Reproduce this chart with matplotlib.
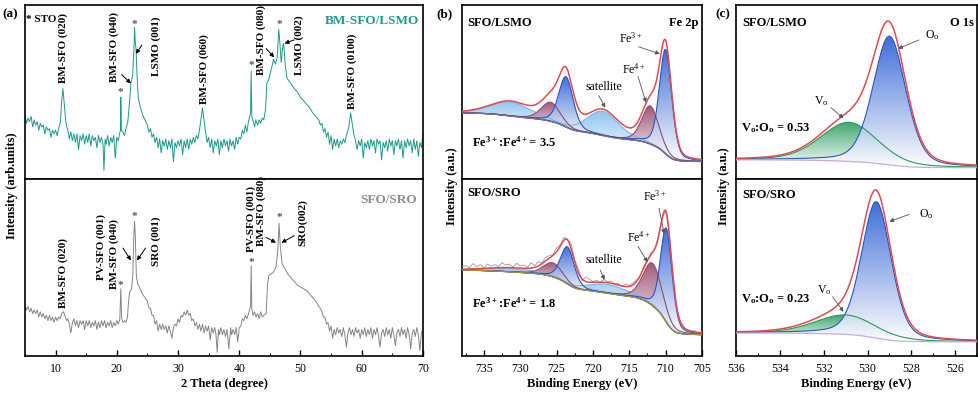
import numpy as np
import matplotlib
matplotlib.use('Agg')
import matplotlib.pyplot as plt
import matplotlib.colors as mcolors
from matplotlib.ticker import MultipleLocator

plt.rcParams['font.family'] = ['Liberation Serif', 'DejaVu Serif']
plt.rcParams['mathtext.default'] = 'regular'

# ---------------- (a) XRD data: (2theta, intensity arb. units) ----------------
xrd_lsmo = [(5.0, 37), (5.25, 32), (5.5, 35), (5.75, 33), (6.0, 36), (6.25, 30), (6.5, 34), (6.75, 31),
            (7.0, 33), (7.25, 28), (7.5, 32), (7.75, 30), (8.0, 31), (8.25, 26), (8.5, 30), (8.75, 28),
            (9.0, 29), (9.25, 24), (9.5, 28), (9.75, 26), (10.0, 28), (10.25, 25), (10.5, 29), (10.8, 33),
            (11.0, 45), (11.2, 52), (11.4, 44), (11.7, 32), (12.0, 28), (12.25, 23), (12.5, 27), (12.75, 22),
            (13.0, 26), (13.25, 21), (13.5, 26), (13.75, 17), (14.0, 25), (14.25, 22), (14.5, 26), (14.75, 20),
            (15.0, 25), (15.25, 21), (15.5, 26), (15.75, 19), (16.0, 25), (16.25, 22), (16.5, 24), (16.75, 18),
            (17.0, 25), (17.25, 21), (17.5, 24), (17.75, 20), (17.9, 5), (18.1, 23), (18.25, 20), (18.5, 25),
            (18.75, 19), (19.0, 24), (19.25, 21), (19.5, 25), (19.75, 12), (20.0, 24), (20.25, 22), (20.5, 27),
            (20.6, 28), (20.65, 47), (20.75, 28), (21.0, 27), (21.25, 25), (21.5, 29), (21.8, 33), (22.1, 45),
            (22.3, 55), (22.6, 60), (22.8, 75), (22.9, 87), (23.0, 80), (23.15, 74), (23.3, 60), (23.5, 47),
            (23.8, 42), (24.2, 37), (24.6, 34), (25.0, 31), (25.25, 27), (25.5, 29), (25.75, 24), (26.0, 26),
            (26.25, 21), (26.5, 24), (26.75, 18), (27.0, 23), (27.25, 15), (27.5, 22), (27.75, 19), (28.0, 23),
            (28.25, 17), (28.5, 22), (28.75, 18), (29.0, 23), (29.25, 10), (29.5, 21), (29.75, 18), (30.0, 22),
            (30.25, 19), (30.5, 23), (30.75, 14), (31.0, 22), (31.25, 18), (31.5, 23), (31.75, 17), (32.0, 23),
            (32.25, 20), (32.5, 24), (32.75, 21), (33.0, 25), (33.25, 23), (33.5, 28), (33.8, 36), (34.0, 41),
            (34.2, 35), (34.5, 27), (34.75, 21), (35.0, 24), (35.25, 18), (35.5, 23), (35.75, 15), (36.0, 22),
            (36.25, 19), (36.5, 23), (36.75, 14), (37.0, 22), (37.25, 18), (37.5, 23), (37.75, 19), (38.0, 22),
            (38.25, 16), (38.5, 23), (38.75, 19), (39.0, 22), (39.25, 17), (39.5, 24), (39.75, 20), (40.0, 24),
            (40.25, 23), (40.5, 28), (40.75, 26), (41.0, 31), (41.25, 27), (41.5, 33), (41.85, 38), (41.95, 62),
            (42.05, 36), (42.3, 33), (42.5, 30), (42.7, 34), (43.0, 31), (43.25, 34), (43.5, 32), (43.75, 35),
            (44.0, 34), (44.3, 40), (44.5, 55), (44.8, 57), (45.0, 60), (45.3, 64), (45.6, 69), (45.9, 66),
            (46.2, 70), (46.45, 86), (46.6, 80), (46.85, 67), (47.1, 76), (47.25, 78), (47.5, 66), (47.8, 58),
            (48.2, 56), (48.6, 54), (49.0, 52), (49.5, 50), (50.0, 47), (50.5, 45), (51.0, 43), (51.5, 41),
            (52.0, 38), (52.5, 36), (53.0, 34), (53.25, 31), (53.5, 32), (53.75, 27), (54.0, 29), (54.25, 24),
            (54.5, 27), (54.75, 20), (55.0, 25), (55.25, 17), (55.5, 23), (55.75, 19), (56.0, 23), (56.25, 18),
            (56.5, 22), (56.75, 20), (57.0, 23), (57.25, 21), (57.5, 25), (57.9, 30), (58.2, 38), (58.4, 33),
            (58.7, 26), (59.0, 22), (59.25, 17), (59.5, 22), (59.75, 19), (60.0, 23), (60.25, 12), (60.5, 21),
            (60.75, 18), (61.0, 22), (61.25, 17), (61.5, 23), (61.75, 19), (62.0, 22), (62.25, 15), (62.5, 23),
            (62.75, 20), (63.0, 22), (63.25, 11), (63.5, 21), (63.75, 18), (64.0, 22), (64.25, 16), (64.5, 23),
            (64.75, 19), (65.0, 22), (65.25, 14), (65.5, 22), (65.75, 19), (66.0, 23), (66.25, 17), (66.5, 22),
            (66.75, 12), (67.0, 22), (67.25, 18), (67.5, 23), (67.75, 19), (68.0, 22), (68.25, 15), (68.5, 23),
            (68.75, 17), (69.0, 22), (69.25, 13), (69.5, 21), (69.75, 18), (70.0, 26)]

xrd_sro = [(5.0, 29), (5.25, 26), (5.5, 28), (5.75, 25), (6.0, 27), (6.25, 24), (6.5, 26), (6.75, 24),
           (7.0, 26), (7.25, 22), (7.5, 25), (7.75, 22), (8.0, 24), (8.25, 21), (8.5, 23), (8.75, 20),
           (9.0, 23), (9.25, 20), (9.5, 22), (9.75, 19), (10.0, 22), (10.25, 20), (10.5, 22), (10.75, 21),
           (11.0, 24), (11.3, 25), (11.6, 22), (11.8, 20), (12.0, 21), (12.25, 18), (12.5, 13), (12.75, 19),
           (13.0, 21), (13.25, 17), (13.5, 20), (13.75, 16), (14.0, 20), (14.25, 18), (14.5, 20), (14.75, 15),
           (15.0, 20), (15.25, 17), (15.5, 20), (15.75, 16), (16.0, 19), (16.25, 17), (16.5, 20), (16.75, 15),
           (17.0, 19), (17.25, 16), (17.5, 20), (17.75, 17), (18.0, 20), (18.25, 16), (18.5, 19), (18.75, 17),
           (19.0, 20), (19.25, 16), (19.5, 19), (19.75, 17), (20.0, 20), (20.25, 18), (20.5, 21), (20.65, 38),
           (20.8, 21), (21.0, 19), (21.25, 20), (21.5, 19), (21.75, 22), (21.9, 30), (22.1, 36), (22.4, 38),
           (22.6, 45), (22.8, 70), (22.9, 76), (23.0, 70), (23.2, 45), (23.4, 41), (23.8, 38), (24.2, 35),
           (24.6, 33), (25.0, 31), (25.25, 27), (25.5, 27), (25.75, 23), (26.0, 23), (26.25, 18), (26.5, 20),
           (26.75, 14), (27.0, 18), (27.25, 15), (27.5, 18), (27.75, 15), (28.0, 17), (28.25, 13), (28.5, 17),
           (28.75, 14), (29.0, 10), (29.25, 16), (29.5, 18), (29.75, 17), (30.0, 21), (30.25, 19), (30.5, 23),
           (30.75, 22), (31.0, 25), (31.25, 23), (31.5, 26), (31.75, 23), (32.0, 24), (32.25, 20), (32.5, 21),
           (32.75, 17), (33.0, 19), (33.25, 15), (33.5, 18), (33.75, 14), (34.0, 18), (34.25, 13), (34.5, 17),
           (34.75, 14), (35.0, 17), (35.25, 9), (35.5, 16), (35.75, 13), (36.0, 16), (36.2, 12), (36.4, 2),
           (36.6, 15), (36.75, 12), (37.0, 16), (37.25, 12), (37.5, 15), (37.75, 11), (38.0, 15), (38.3, 4),
           (38.6, 16), (38.75, 12), (39.0, 15), (39.25, 12), (39.5, 16), (39.75, 8), (40.0, 16), (40.25, 17),
           (40.5, 21), (40.75, 20), (41.0, 23), (41.25, 21), (41.5, 24), (41.85, 28), (41.95, 51), (42.05, 27),
           (42.25, 23), (42.5, 25), (42.75, 22), (43.0, 24), (43.25, 21), (43.5, 25), (43.75, 22), (44.0, 23),
           (44.4, 24), (44.6, 40), (44.8, 45), (45.0, 46), (45.5, 47), (46.0, 50), (46.3, 60), (46.5, 75),
           (46.7, 62), (47.0, 52), (47.5, 49), (48.0, 46), (48.5, 44), (49.0, 42), (49.5, 40), (50.0, 39),
           (50.5, 38), (51.0, 37), (51.5, 35), (52.0, 33), (52.5, 31), (53.0, 28), (53.25, 27), (53.5, 25),
           (53.75, 22), (54.0, 22), (54.25, 18), (54.5, 19), (54.75, 14), (55.0, 17), (55.25, 10), (55.5, 15),
           (55.75, 12), (56.0, 16), (56.25, 13), (56.5, 15), (56.75, 11), (57.0, 16), (57.25, 12), (57.5, 5),
           (57.75, 13), (58.0, 16), (58.25, 12), (58.5, 15), (58.75, 11), (59.0, 16), (59.25, 13), (59.5, 15),
           (59.75, 10), (60.0, 15), (60.25, 12), (60.5, 16), (60.75, 11), (61.0, 15), (61.25, 12), (61.5, 16),
           (61.75, 10), (62.0, 15), (62.25, 12), (62.5, 16), (62.75, 11), (63.0, 5), (63.25, 13), (63.5, 15),
           (63.75, 11), (64.0, 16), (64.25, 12), (64.5, 15), (64.75, 10), (65.0, 16), (65.25, 12), (65.5, 6),
           (65.75, 13), (66.0, 15), (66.25, 11), (66.5, 16), (66.75, 12), (67.0, 15), (67.25, 10), (67.5, 16),
           (67.75, 12), (68.0, 4), (68.25, 13), (68.5, 15), (68.75, 11), (69.0, 16), (69.25, 12), (69.5, 3),
           (69.75, 13), (70.0, 15)]

# peak labels: (text, 2theta, y of label bottom)
lab_lsmo = [("BM-SFO (020)", 11.3, 55), ("BM-SFO (040)", 19.5, 56), ("LSMO (001)", 26.4, 59),
            ("BM-SFO (060)", 34.3, 43), ("BM-SFO (080)", 43.6, 60), ("LSMO (002)", 49.8, 60),
            ("BM-SFO (0100)", 58.5, 40)]
lab_sro = [("BM-SFO (020)", 11.3, 27), ("PV-SFO (001)", 17.4, 43), ("BM-SFO (040)", 19.5, 38),
           ("SRO (001)", 26.4, 51), ("PV-SFO (001)", 42.0, 59), ("BM-SFO (080)", 43.6, 62),
           ("SRO(002)", 50.3, 62)]
sto_lsmo = [(20.65, 50), (22.9, 89), (42.0, 65), (46.5, 89)]
sto_sro = [(20.65, 40), (22.9, 79), (42.0, 53), (46.5, 78)]
arr_lsmo = [((20.8, 60), (22.3, 55)), ((24.1, 77), (23.1, 72)), ((44.4, 75), (45.7, 70)),
            ((49.0, 80), (47.4, 78))]
arr_sro = [((21.0, 61), (22.3, 54)), ((24.7, 61), (23.3, 54)), ((44.4, 67), (46.0, 64)),
           ((49.0, 68), (46.9, 64))]

# ---------------- (b) Fe 2p fit components ----------------
fe_kind = ['Fe3+', 'Fe4+', 'Fe3+', 'Fe4+', 'sat', 'sat']
fe_lsmo_center = [710.0, 712.1, 723.7, 725.8, 718.6, 731.3]
fe_lsmo_height = [0.60, 0.22, 0.29, 0.11, 0.14, 0.08]
fe_lsmo_sigma = [0.85, 1.15, 1.0, 1.3, 2.2, 2.8]
fe_lsmo_bg = (0.10, 0.38)
fe_sro_center = [709.9, 711.8, 723.5, 725.5, 718.0, 731.0]
fe_sro_height = [0.53, 0.24, 0.21, 0.08, 0.05, 0.02]
fe_sro_sigma = [0.8, 1.3, 0.95, 1.3, 2.8, 3.5]
fe_sro_bg = (0.12, 0.485)
# raw-minus-fit residual for SFO/SRO, 0.5 eV steps from 705 to 738 eV
fe_sro_resid = [0.010, -0.004, 0.006, 0.000, -0.003, 0.004, 0.002, -0.006, 0.005, 0.008,
                -0.004, 0.006, 0.012, -0.005, 0.010, 0.003, 0.014, -0.006, 0.009, 0.012,
                0.004, 0.015, -0.004, 0.010, 0.002, 0.012, 0.006, 0.016, -0.005, 0.011,
                0.004, 0.018, 0.025, -0.010, 0.020, 0.012, 0.028, 0.004, 0.018, 0.008,
                0.022, 0.003, 0.016, 0.020, 0.005, 0.024, 0.010, 0.030, 0.006, 0.018,
                0.012, 0.026, 0.004, 0.020, 0.015, 0.028, 0.006, 0.018, 0.010, 0.024,
                0.004, 0.022, 0.012, 0.030, 0.008, 0.020, 0.014]

# ---------------- (c) O 1s fit components ----------------
o_kind = ['Oo', 'Vo']
o_lsmo_center = [529.0, 530.85]
o_lsmo_height = [0.74, 0.225]
o_lsmo_sigma = [0.75, 1.3]
o_lsmo_bg = (0.065, 0.11)
o_sro_center = [529.6, 531.0]
o_sro_height = [0.77, 0.11]
o_sro_sigma = [0.68, 1.4]
o_sro_bg = (0.08, 0.13)

# colours
TEAL = '#1b9a8b'
GREY = '#858585'
RED = '#e5484f'
STYLE = {'Fe3+': ('#2f62d4', '#2a55c0'), 'Fe4+': ('#9a4a6c', '#8a5070'),
         'sat': ('#86bff0', '#7db6e6'), 'Oo': ('#2f62d4', '#2a55c0'), 'Vo': ('#2ea062', '#2a9a5c')}

fig = plt.figure(figsize=(9.79, 3.96), dpi=100)
TOP, MID, BOT = 0.987, 0.548, 0.101


def pair(left, right):
    w = right - left
    a1 = fig.add_axes([left, MID, w, TOP - MID])
    a2 = fig.add_axes([left, BOT, w, MID - BOT])
    for a in (a1, a2):
        for s in a.spines.values():
            s.set_linewidth(1.2)
        a.set_yticks([])
    a1.tick_params(bottom=False, labelbottom=False)
    return a1, a2


def comp(E, c, h, s, eta=0.3):
    g = np.exp(-0.5 * ((E - c) / s) ** 2)
    L = 1.0 / (1.0 + ((E - c) / (1.1774 * s)) ** 2)
    return h * ((1 - eta) * g + eta * L)


def shirley(E, total, lo, hi):
    cum = np.concatenate([[0], np.cumsum((total[1:] + total[:-1]) / 2 * np.diff(E))])
    return lo + (hi - lo) * cum / cum[-1]


def grad_fill(ax, E, lo, hi, color, z):
    poly = ax.fill_between(E, lo, hi, facecolor='none', edgecolor='none')
    path = poly.get_paths()[0]
    mask = (hi - lo) > 0.002
    bot = lo[mask].min()
    top = hi.max()
    c = np.array(mcolors.to_rgba(color))
    t = np.linspace(0, 1, 256)[:, None]
    rgba = (1 - t) * np.array([1, 1, 1, 1]) + t * c
    im = ax.imshow(rgba[:, None, :], extent=[E.min(), E.max(), bot, top], origin='lower',
                   aspect='auto', zorder=z, alpha=0.92, interpolation='bilinear')
    im.set_clip_path(path, transform=ax.transData)


def xps(ax, E, kinds, cs, hs, ss, bgv, bgcol, order):
    comps = [comp(E, c, h, s) for c, h, s in zip(cs, hs, ss)]
    total = np.sum(comps, axis=0)
    bg = shirley(E, total, *bgv)
    for k, i in enumerate(order):
        grad_fill(ax, E, bg, bg + comps[i], STYLE[kinds[i]][0], 2 + k * 0.1)
    for i in order:
        ax.plot(E, bg + comps[i], color=STYLE[kinds[i]][1], lw=0.8, zorder=3)
    ax.plot(E, bg, color=bgcol, lw=0.9, zorder=3)
    ax.plot(E, bg + total, color=RED, lw=1.1, zorder=5)
    return bg + total


def arrow(ax, tail, tip, col='k', lw=0.7):
    ax.annotate('', xy=tip, xytext=tail,
                arrowprops=dict(arrowstyle='-|>', color=col, lw=lw, mutation_scale=6,
                                shrinkA=0, shrinkB=0), zorder=6)


# ================= (a) =================
a1, a2 = pair(0.0255, 0.432)
for ax, data, col, labs, stars, arrs in ((a1, xrd_lsmo, TEAL, lab_lsmo, sto_lsmo, arr_lsmo),
                                         (a2, xrd_sro, GREY, lab_sro, sto_sro, arr_sro)):
    tt, ii = zip(*data)
    ax.plot(tt, ii, color=col, lw=0.7)
    ax.set_xlim(5, 70)
    ax.set_ylim(0, 100)
    for txt, x, y in labs:
        ax.text(x, y, txt, rotation=90, ha='center', va='bottom', fontsize=8, fontweight='bold')
    for x, y in stars:
        ax.text(x, y, '*', ha='center', va='center', fontsize=8, fontweight='bold', color='#555555')
    for tail, tip in arrs:
        arrow(ax, tail, tip)
a1.text(5.2, 92, '* STO', fontsize=8, fontweight='bold', va='center')
a1.text(0.99, 0.91, 'BM-SFO/LSMO', transform=a1.transAxes, ha='right', va='center',
        fontsize=9.5, fontweight='bold', color=TEAL)
a2.text(0.985, 0.88, 'SFO/SRO', transform=a2.transAxes, ha='right', va='center',
        fontsize=9.5, fontweight='bold', color='#8c8c8c')
a2.set_xticks(range(10, 71, 10))
a2.xaxis.set_minor_locator(MultipleLocator(5))
a2.tick_params(axis='x', direction='in', length=4, width=1, labelsize=8.5, pad=5)
a2.tick_params(axis='x', which='minor', direction='in', length=2.5, width=0.8)
a2.set_xlabel('2 Theta (degree)', fontsize=9, fontweight='bold', labelpad=2)
fig.text(0.012, 0.53, 'Intensity (arb.units)', rotation=90, ha='center', va='center',
         fontsize=9, fontweight='bold')
fig.text(0.002, 0.965, '(a)', fontsize=9.5, fontweight='bold', va='center')

# ================= (b) =================
b1, b2 = pair(0.472, 0.717)
E = np.linspace(705, 738, 1400)
fe_order = [5, 4, 3, 1, 2, 0]
xps(b1, E, fe_kind, fe_lsmo_center, fe_lsmo_height, fe_lsmo_sigma, fe_lsmo_bg, '#8a6a78', fe_order)
env = xps(b2, E, fe_kind, fe_sro_center, fe_sro_height, fe_sro_sigma, fe_sro_bg, '#9c9a2e', fe_order)
E_raw = np.arange(len(fe_sro_resid)) * 0.5 + 705
b2.plot(E_raw, np.interp(E_raw, E, env) + np.array(fe_sro_resid), color='#9a9a9a', lw=0.6, zorder=4)
for ax in (b1, b2):
    ax.set_xlim(738, 705)
    ax.set_ylim(0, 1)
b2.set_xticks(range(705, 736, 5))
b2.xaxis.set_minor_locator(MultipleLocator(2.5))
b2.tick_params(axis='x', direction='in', length=4, width=1, labelsize=8.5, pad=5)
b2.tick_params(axis='x', which='minor', direction='in', length=2.5, width=0.8)
b2.set_xlabel('Binding Energy (eV)', fontsize=9, fontweight='bold', labelpad=2)
b1.text(0.02, 0.90, 'SFO/LSMO', transform=b1.transAxes, fontsize=9, fontweight='bold', va='center')
b1.text(0.985, 0.90, 'Fe 2p', transform=b1.transAxes, fontsize=9, fontweight='bold', va='center', ha='right')
b2.text(0.02, 0.92, 'SFO/SRO', transform=b2.transAxes, fontsize=9, fontweight='bold', va='center')
b1.text(736.7, 0.21, r'Fe$^{3+}$:Fe$^{4+}$= 3.5', fontsize=9, fontweight='bold', va='center')
b2.text(736.7, 0.30, r'Fe$^{3+}$:Fe$^{4+}$= 1.8', fontsize=9, fontweight='bold', va='center')
b1.text(714.8, 0.81, r'Fe$^{3+}$', fontsize=8.5, ha='center', va='center')
b1.text(714.4, 0.63, r'Fe$^{4+}$', fontsize=8.5, ha='center', va='center')
b1.text(718.5, 0.53, 'satellite', fontsize=8.5, ha='center', va='center')
arrow(b1, (713.7, 0.76), (710.8, 0.72), '#555555', 0.6)
arrow(b1, (713.8, 0.59), (712.7, 0.44), '#555555', 0.6)
arrow(b1, (719.2, 0.48), (718.3, 0.41), '#555555', 0.6)
b2.text(711.5, 0.90, r'Fe$^{3+}$', fontsize=8.5, ha='center', va='center')
b2.text(713.7, 0.67, r'Fe$^{4+}$', fontsize=8.5, ha='center', va='center')
b2.text(718.5, 0.54, 'satellite', fontsize=8.5, ha='center', va='center')
arrow(b2, (710.9, 0.835), (710.2, 0.69), '#555555', 0.6)
arrow(b2, (713.8, 0.62), (712.5, 0.53), '#555555', 0.6)
arrow(b2, (719.0, 0.485), (718.4, 0.43), '#555555', 0.6)
fig.text(0.462, 0.53, 'Intensity (a.u.)', rotation=90, ha='center', va='center',
         fontsize=9, fontweight='bold')
fig.text(0.446, 0.965, '(b)', fontsize=9.5, fontweight='bold', va='center')

# ================= (c) =================
c1, c2 = pair(0.752, 0.998)
Eo = np.linspace(525, 536, 900)
xps(c1, Eo, o_kind, o_lsmo_center, o_lsmo_height, o_lsmo_sigma, o_lsmo_bg, '#c9abd8', [1, 0])
xps(c2, Eo, o_kind, o_sro_center, o_sro_height, o_sro_sigma, o_sro_bg, '#c9abd8', [1, 0])
for ax in (c1, c2):
    ax.set_xlim(536, 525)
    ax.set_ylim(0, 1)
c2.set_xticks(range(526, 537, 2))
c2.xaxis.set_minor_locator(MultipleLocator(1))
c2.tick_params(axis='x', direction='in', length=4, width=1, labelsize=8.5, pad=5)
c2.tick_params(axis='x', which='minor', direction='in', length=2.5, width=0.8)
c2.set_xlabel('Binding Energy (eV)', fontsize=9, fontweight='bold', labelpad=2)
c1.text(0.025, 0.90, 'SFO/LSMO', transform=c1.transAxes, fontsize=9, fontweight='bold', va='center')
c1.text(0.985, 0.90, 'O 1s', transform=c1.transAxes, fontsize=9, fontweight='bold', va='center', ha='right')
c2.text(0.025, 0.91, 'SFO/SRO', transform=c2.transAxes, fontsize=9, fontweight='bold', va='center')
c1.text(535.8, 0.29, r'V$_o$:O$_o$ = 0.53', fontsize=9, fontweight='bold', va='center')
c2.text(535.8, 0.32, r'V$_o$:O$_o$ = 0.23', fontsize=9, fontweight='bold', va='center')
c1.text(527.05, 0.83, r'O$_o$', fontsize=8.5, ha='center', va='center')
c1.text(532.1, 0.45, r'V$_o$', fontsize=8.5, ha='center', va='center')
arrow(c1, (527.65, 0.80), (528.6, 0.75), '#555555', 0.6)
arrow(c1, (531.67, 0.41), (531.1, 0.35), '#555555', 0.6)
c2.text(527.3, 0.80, r'O$_o$', fontsize=8.5, ha='center', va='center')
c2.text(532.0, 0.37, r'V$_o$', fontsize=8.5, ha='center', va='center')
arrow(c2, (528.1, 0.80), (529.0, 0.76), '#555555', 0.6)
arrow(c2, (531.6, 0.335), (531.1, 0.25), '#555555', 0.6)
fig.text(0.740, 0.53, 'Intensity (a.u.)', rotation=90, ha='center', va='center',
         fontsize=9, fontweight='bold')
fig.text(0.731, 0.965, '(c)', fontsize=9.5, fontweight='bold', va='center')

fig.savefig('out.png', dpi=100)
